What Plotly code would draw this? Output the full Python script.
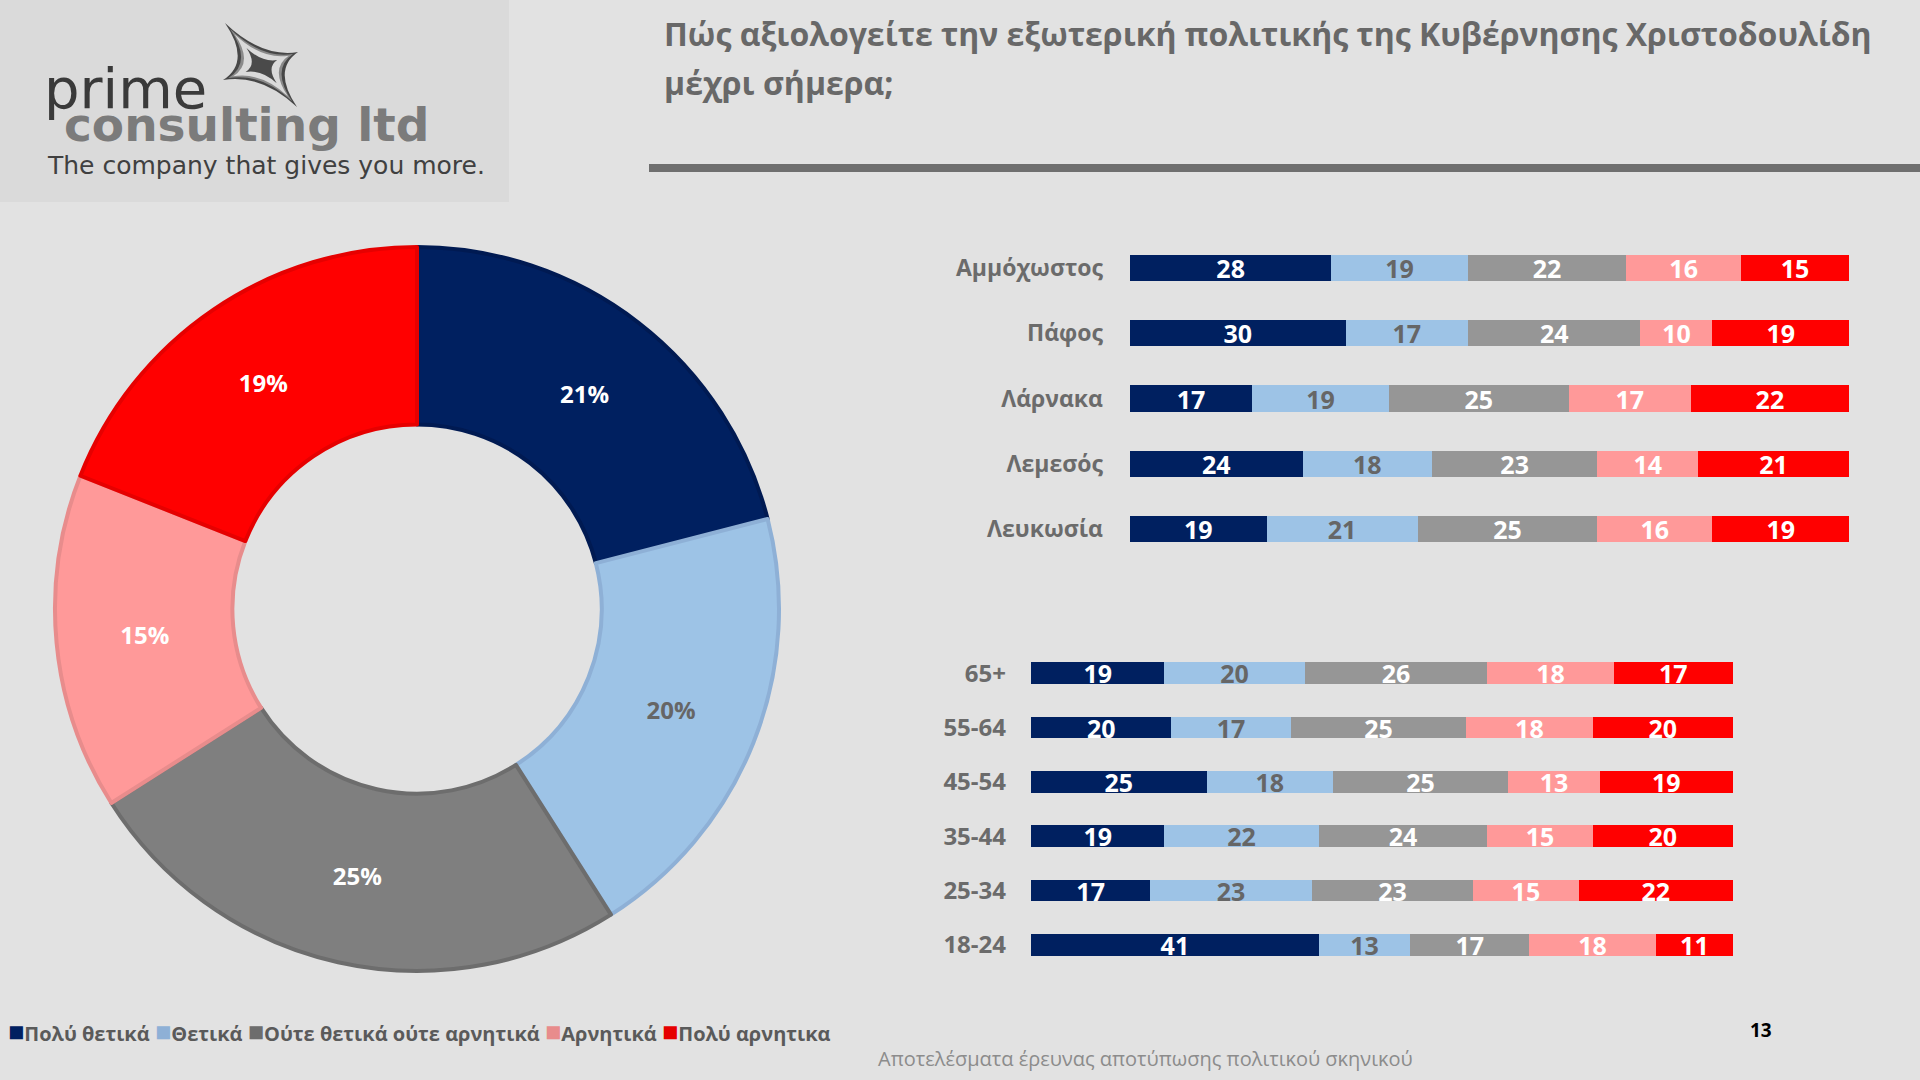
import plotly.graph_objects as go

W, H = 1920, 1080
FONT = "Open Sans"

# ---------------- data ----------------
answers = ["Πολύ θετικά", "Θετικά", "Ούτε θετικά ούτε αρνητικά", "Αρνητικά", "Πολύ αρνητικα"]
colors = ["#002060", "#9dc3e6", "#969696", "#ff9999", "#ff0000"]
pie_colors = ["#002060", "#9dc3e6", "#7f7f7f", "#ff9999", "#ff0000"]
pie_line_colors = ["#001a52", "#8eb0d6", "#6d6d6d", "#e88c8c", "#e60000"]
legend_colors = ["#002060", "#8eb0d6", "#6d6d6d", "#e88c8c", "#e60000"]
text_colors = ["#ffffff", "#666666", "#ffffff", "#ffffff", "#ffffff"]

overall = [21, 20, 25, 15, 19]

districts = ["Αμμόχωστος", "Πάφος", "Λάρνακα", "Λεμεσός", "Λευκωσία"]
district_vals = [
    [28, 30, 17, 24, 19],   # Πολύ θετικά
    [19, 17, 19, 18, 21],   # Θετικά
    [22, 24, 25, 23, 25],   # Ούτε θετικά ούτε αρνητικά
    [16, 10, 17, 14, 16],   # Αρνητικά
    [15, 19, 22, 21, 19],   # Πολύ αρνητικα
]

ages = ["65+", "55-64", "45-54", "35-44", "25-34", "18-24"]
age_vals = [
    [19, 20, 25, 19, 17, 41],
    [20, 17, 18, 22, 23, 13],
    [26, 25, 25, 24, 23, 17],
    [18, 18, 13, 15, 15, 18],
    [17, 20, 19, 20, 22, 11],
]

title_lines = ["Πώς αξιολογείτε την εξωτερική πολιτικής της Κυβέρνησης Χριστοδουλίδη",
               "μέχρι σήμερα;"]
footer = "Αποτελέσματα έρευνας αποτύπωσης πολιτικού σκηνικού"
page_no = "13"


def px(x):
    return x / W


def py(y):
    return 1 - y / H


fig = go.Figure()

# ---------------- donut ----------------
fig.add_trace(go.Pie(
    labels=answers, values=overall, hole=0.51, sort=False, direction="clockwise",
    rotation=0,
    marker=dict(colors=pie_colors, line=dict(color=pie_line_colors, width=4)),
    texttemplate="%{value}%", textposition="inside", insidetextorientation="horizontal",
    textfont=dict(family=FONT, size=24, color=text_colors, weight="bold"),
    domain=dict(x=[px(55), px(779)], y=[py(971), py(247)]),
    showlegend=False, hoverinfo="label+value",
))

# ---------------- stacked bars ----------------
for i, name in enumerate(answers):
    fig.add_trace(go.Bar(
        y=districts, x=district_vals[i], orientation="h", name=name,
        marker=dict(color=colors[i], line=dict(width=0)),
        text=district_vals[i], textposition="inside", insidetextanchor="middle",
        textangle=0, constraintext="none",
        textfont=dict(family=FONT, size=25, color=text_colors[i], weight="bold"),
        xaxis="x", yaxis="y", showlegend=False, legendgroup=name,
    ))
    fig.add_trace(go.Bar(
        y=ages, x=age_vals[i], orientation="h", name=name,
        marker=dict(color=colors[i], line=dict(width=0)),
        text=age_vals[i], textposition="inside", insidetextanchor="middle",
        textangle=0, constraintext="none",
        textfont=dict(family=FONT, size=25, color=text_colors[i], weight="bold"),
        xaxis="x2", yaxis="y2", showlegend=False, legendgroup=name,
    ))

axis_common = dict(showgrid=False, zeroline=False, showline=False)
fig.update_layout(
    width=W, height=H,
    margin=dict(l=0, r=0, t=0, b=0),
    paper_bgcolor="#e2e2e2", plot_bgcolor="rgba(0,0,0,0)",
    barmode="stack", bargap=0.6, bargroupgap=0,
    uniformtext=dict(minsize=24, mode="show"),
    font=dict(family=FONT, color="#6b6b6b"),
    showlegend=False,
    xaxis=dict(domain=[px(1130), px(1849)], range=[0, 100], showticklabels=False,
               anchor="y", **axis_common),
    yaxis=dict(domain=[py(562), py(235)], autorange="reversed", anchor="x",
               ticks="", ticklabelstandoff=26,
               tickfont=dict(family=FONT, size=23, color="#6b6b6b", weight="bold"),
               **axis_common),
    xaxis2=dict(domain=[px(1031), px(1733)], range=[0, 100], showticklabels=False,
                anchor="y2", **axis_common),
    yaxis2=dict(domain=[py(972), py(646)], autorange="reversed", anchor="x2",
                ticks="", ticklabelstandoff=24,
                tickfont=dict(family=FONT, size=24, color="#6b6b6b", weight="bold"),
                **axis_common),
)

shapes = []
# logo box
shapes.append(dict(type="rect", xref="paper", yref="paper", x0=px(0), x1=px(509),
                   y0=py(202), y1=py(0), fillcolor="#dadada", line=dict(width=0), layer="below"))
# separator line
shapes.append(dict(type="rect", xref="paper", yref="paper", x0=px(649), x1=px(1920),
                   y0=py(172), y1=py(164), fillcolor="#6f6f6f", line=dict(width=0)))


# star logo
def star_path(cx, cy, tips, scale, pull=0.28):
    pts = [(cx + (tx - cx) * scale, cy + (ty - cy) * scale) for tx, ty in tips]
    path = f"M {px(pts[0][0])},{py(pts[0][1])} "
    for k in range(4):
        a = pts[k]
        b = pts[(k + 1) % 4]
        mx, my = (a[0] + b[0]) / 2, (a[1] + b[1]) / 2
        qx, qy = cx + (mx - cx) * pull, cy + (my - cy) * pull
        path += f"Q {px(qx)},{py(qy)} {px(b[0])},{py(b[1])} "
    return path + "Z"


star_c = (262, 66)
star_tips = [(225, 23), (298, 52), (297, 107), (223, 80)]
for sc, col in [(1.0, "#474747"), (0.86, "#8a8a8a"), (0.74, "#dadada"), (0.42, "#4a4a4a")]:
    shapes.append(dict(type="path", xref="paper", yref="paper",
                       path=star_path(star_c[0], star_c[1], star_tips, sc),
                       fillcolor=col, line=dict(width=0)))

annotations = []
annotations.append(dict(text="prime", x=px(42), y=py(89), xref="paper", yref="paper",
                        xanchor="left", yanchor="middle", showarrow=False,
                        font=dict(family="DejaVu Sans", size=56, color="#3a3a3a")))
annotations.append(dict(text="consulting ltd", x=px(62), y=py(124), xref="paper", yref="paper",
                        xanchor="left", yanchor="middle", showarrow=False,
                        font=dict(family="DejaVu Sans", size=47, color="#7b7b7b", weight="bold")))
annotations.append(dict(text="The company that gives you more.", x=px(45), y=py(166),
                        xref="paper", yref="paper", xanchor="left", yanchor="middle",
                        showarrow=False,
                        font=dict(family="DejaVu Sans", size=25, color="#404040")))
# title
for k, line in enumerate(title_lines):
    annotations.append(dict(text=line, x=px(662), y=py(33 + 49 * k), xref="paper", yref="paper",
                            xanchor="left", yanchor="middle", showarrow=False,
                            font=dict(family=FONT, size=32, color="#686868", weight="bold")))

# legend (compact, as in the reference)
legend_text = " ".join(
    f"<span style='color:{c};font-size:27px'>■</span>{a}" for a, c in zip(answers, legend_colors)
)
annotations.append(dict(text=legend_text, x=px(6), y=py(1030), xref="paper", yref="paper",
                        xanchor="left", yanchor="middle", showarrow=False,
                        font=dict(family=FONT, size=20, color="#5a5a5a", weight="bold")))

# page number & footer
annotations.append(dict(text=page_no, x=px(1761), y=py(1030), xref="paper", yref="paper",
                        xanchor="center", yanchor="middle", showarrow=False,
                        font=dict(family=FONT, size=19, color="#000000", weight="bold")))
annotations.append(dict(text=footer, x=px(1145), y=py(1058), xref="paper", yref="paper",
                        xanchor="center", yanchor="middle", showarrow=False,
                        font=dict(family=FONT, size=20, color="#8c8c8c")))

fig.update_layout(shapes=shapes, annotations=annotations)

fig.write_html("out.html", config={"displayModeBar": False})

# remove the browser's default page margin so the figure fills the window exactly
with open("out.html", encoding="utf-8") as f:
    html = f.read()
html = html.replace("<head>", "<head><style>html,body{margin:0;padding:0;overflow:hidden;}</style>", 1)
with open("out.html", "w", encoding="utf-8") as f:
    f.write(html)
